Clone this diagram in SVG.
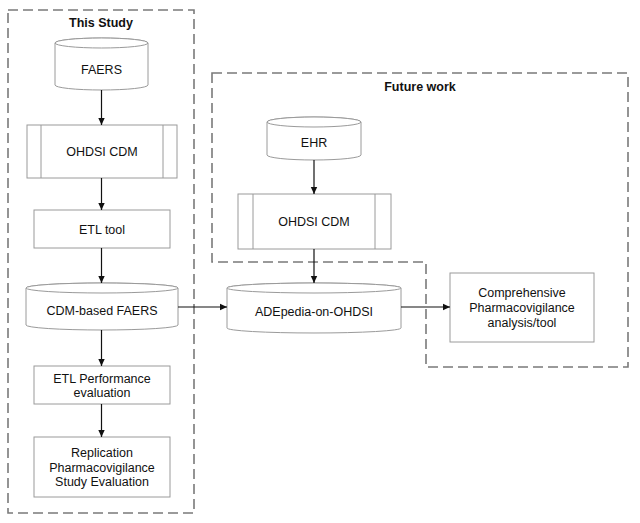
<svg xmlns="http://www.w3.org/2000/svg" width="640" height="523" viewBox="0 0 640 523">
<defs>
<style>
.box{fill:#fff;stroke:#9a9a9a;stroke-width:1}
.grp{fill:none;stroke:#7a7a7a;stroke-width:1.6;stroke-dasharray:10 5}
.t{font-family:"Liberation Sans",Arial,sans-serif;font-size:12.5px;fill:#111;text-anchor:middle}
.title{font-family:"Liberation Sans",Arial,sans-serif;font-size:12.5px;font-weight:bold;fill:#111;text-anchor:middle}
.c{fill:none;stroke:#111;stroke-width:1.2}
</style>
<marker id="ah" markerWidth="8" markerHeight="8" refX="7" refY="4" orient="auto" markerUnits="userSpaceOnUse">
<path d="M0,0.8 L7,4 L0,7.2 Z" fill="#111"/>
</marker>
</defs>
<rect width="640" height="523" fill="#fff"/>

<g id="this-study">
<rect class="grp" x="8" y="10" width="186" height="503"/>
<text class="title" x="101" y="27">This Study</text>
</g>
<g id="future-work">
<path class="grp" d="M212,73 L628,73 L628,367 L426,367 L426,262 L212,262 Z"/>
<text class="title" x="420" y="91">Future work</text>
</g>

<g id="faers">
<path class="box" d="M55,43 L55,85 A46.5,5 0 0 0 148,85 L148,43 A46.5,5 0 0 0 55,43 Z"/>
<ellipse class="box" cx="101.5" cy="43" rx="46.5" ry="5"/>
<text class="t" x="101.5" y="74">FAERS</text>
</g>
<g id="ohdsi-cdm-1">
<rect class="box" x="27" y="125" width="150" height="53"/>
<line class="box" x1="41" y1="125" x2="41" y2="178"/>
<line class="box" x1="163" y1="125" x2="163" y2="178"/>
<text class="t" x="102" y="156">OHDSI CDM</text>
</g>
<g id="etl-tool">
<rect class="box" x="34" y="210" width="136" height="38"/>
<text class="t" x="102" y="234">ETL tool</text>
</g>
<g id="cdm-faers">
<path class="box" d="M26,288 L26,325 A76,5 0 0 0 178,325 L178,288 A76,5 0 0 0 26,288 Z"/>
<ellipse class="box" cx="102" cy="288" rx="76" ry="5"/>
<text class="t" x="102" y="315">CDM-based FAERS</text>
</g>
<g id="etl-perf">
<rect class="box" x="34" y="366" width="136" height="38"/>
<text class="t" x="102" y="383">ETL Performance</text>
<text class="t" x="102" y="397">evaluation</text>
</g>
<g id="replication">
<rect class="box" x="34" y="437" width="136" height="60"/>
<text class="t" x="102" y="457">Replication</text>
<text class="t" x="102" y="472">Pharmacovigilance</text>
<text class="t" x="102" y="486">Study Evaluation</text>
</g>
<g id="ehr">
<path class="box" d="M267,122 L267,155 A47,5 0 0 0 361,155 L361,122 A47,5 0 0 0 267,122 Z"/>
<ellipse class="box" cx="314" cy="122" rx="47" ry="5"/>
<text class="t" x="314" y="147">EHR</text>
</g>
<g id="ohdsi-cdm-2">
<rect class="box" x="238" y="194" width="153" height="55"/>
<line class="box" x1="253" y1="194" x2="253" y2="249"/>
<line class="box" x1="375" y1="194" x2="375" y2="249"/>
<text class="t" x="314" y="226">OHDSI CDM</text>
</g>
<g id="adepedia">
<path class="box" d="M227,288 L227,328 A87,5 0 0 0 401,328 L401,288 A87,5 0 0 0 227,288 Z"/>
<ellipse class="box" cx="314" cy="288" rx="87" ry="5"/>
<text class="t" x="314" y="316">ADEpedia-on-OHDSI</text>
</g>
<g id="comprehensive">
<rect class="box" x="450" y="273" width="144" height="69"/>
<text class="t" x="522" y="297">Comprehensive</text>
<text class="t" x="522" y="312">Pharmacovigilance</text>
<text class="t" x="522" y="327">analysis/tool</text>
</g>

<g id="connectors">
<line class="c" x1="101.5" y1="90" x2="101.5" y2="125" marker-end="url(#ah)"/>
<line class="c" x1="101.5" y1="178" x2="101.5" y2="210" marker-end="url(#ah)"/>
<line class="c" x1="101.5" y1="248" x2="101.5" y2="283" marker-end="url(#ah)"/>
<line class="c" x1="101.5" y1="330" x2="101.5" y2="366" marker-end="url(#ah)"/>
<line class="c" x1="101.5" y1="404" x2="101.5" y2="437" marker-end="url(#ah)"/>
<line class="c" x1="178" y1="307" x2="227" y2="307" marker-end="url(#ah)"/>
<line class="c" x1="314" y1="160" x2="314" y2="194" marker-end="url(#ah)"/>
<line class="c" x1="314" y1="249" x2="314" y2="283" marker-end="url(#ah)"/>
<line class="c" x1="401" y1="307" x2="450" y2="307" marker-end="url(#ah)"/>
</g>
</svg>
